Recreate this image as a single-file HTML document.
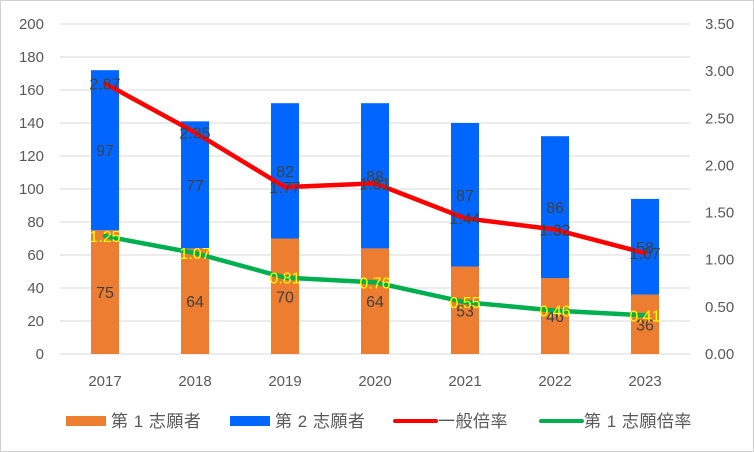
<!DOCTYPE html>
<html><head><meta charset="utf-8"><style>
body{margin:0;background:#fff}
svg{display:block;font-family:"Liberation Sans","Noto Sans CJK JP",sans-serif}
</style></head><body>
<svg id="c" width="754" height="452"></svg>
<script>
const categories=["2017","2018","2019","2020","2021","2022","2023"];
const firstChoice=[75,64,70,64,53,46,36];
const secondChoice=[97,77,82,88,87,86,58];
const generalRatio=[2.87,2.35,1.77,1.81,1.44,1.32,1.07];
const firstRatio=[1.25,1.07,0.81,0.76,0.55,0.46,0.41];
const leftTicks=[0,20,40,60,80,100,120,140,160,180,200];
const rightTicks=["0.00","0.50","1.00","1.50","2.00","2.50","3.00","3.50"];
const NS="http://www.w3.org/2000/svg";
const svg=document.getElementById('c');
const X0=60,STEP=90,Y0=354,YT=24;
const xc=i=>X0+STEP*(i+0.5);
const yl=v=>Y0-(v/200)*(Y0-YT);
const yr=v=>Y0-(v/3.5)*(Y0-YT);
function el(t,a,txt){const e=document.createElementNS(NS,t);for(const k in a)e.setAttribute(k,a[k]);if(txt!=null)e.textContent=txt;svg.appendChild(e);return e;}
const bg=el('rect',{x:0.5,y:0.5,width:753,height:451,fill:'#fff',stroke:'#d0d0d0'});


leftTicks.forEach(v=>{
 const g=el('line',{x1:X0,x2:X0+STEP*7,y1:yl(v),y2:yl(v),stroke:'#d9d9d9','stroke-width':1});
 
 
 const t=el('text',{x:44,y:yl(v)+5,'text-anchor':'end','font-size':15,fill:'#595959'},v);
 
 
});
rightTicks.forEach(s=>{
 const t=el('text',{x:705,y:yr(parseFloat(s))+5,'font-size':15,fill:'#595959'},s);
 
 
});
categories.forEach((c,i)=>{
 const t=el('text',{x:xc(i),y:386,'text-anchor':'middle','font-size':15,fill:'#595959'},c);
 
 
 const b1=el('rect',{x:xc(i)-14,y:yl(firstChoice[i]),width:28,height:Y0-yl(firstChoice[i]),fill:'#ED7D31'});
 
 
 const top=firstChoice[i]+secondChoice[i];
 const b2=el('rect',{x:xc(i)-14,y:yl(top),width:28,height:yl(firstChoice[i])-yl(top),fill:'#0066FF'});
 
 
 const l1=el('text',{x:xc(i),y:yl(firstChoice[i]/2)+6,'text-anchor':'middle','font-size':16,fill:'#404040'},firstChoice[i]);
 
 
 const l2=el('text',{x:xc(i),y:yl(firstChoice[i]+secondChoice[i]/2)+6,'text-anchor':'middle','font-size':16,fill:'#404040'},secondChoice[i]);
 
 
});
function line(vals,color,name,labelColor){
 const p=el('polyline',{points:vals.map((v,i)=>xc(i)+','+yr(v)).join(' '),fill:'none',stroke:color,'stroke-width':4.5,'stroke-linejoin':'round','stroke-linecap':'round'});
 
 
 vals.forEach((v,i)=>{
  const t=el('text',{x:xc(i),y:yr(v)+6,'text-anchor':'middle','font-size':16,fill:labelColor},v.toFixed(2));
  
  
 });
}
line(generalRatio,'#FF0000','general-ratio-line','#404040');
line(firstRatio,'#00B050','first-ratio-line','#FFFF00');
const leg=[["第 1 志願者",'rect','#ED7D31',66],["第 2 志願者",'rect','#0066FF',230],["一般倍率",'line','#FF0000',393],["第 1 志願倍率",'line','#00B050',539]];
leg.forEach(([txt,kind,col,x])=>{
 let m;
 if(kind==='rect')m=el('rect',{x:x,y:416,width:40,height:10,fill:col});
 else m=el('line',{x1:x+2,x2:x+43,y1:421,y2:421,stroke:col,'stroke-width':4,'stroke-linecap':'round'});
 
 
 const t=el('text',{x:x+45,y:427,'font-size':17,'letter-spacing':'0.5',fill:'#595959'},txt);
 
 
});
</script>
</body></html>
